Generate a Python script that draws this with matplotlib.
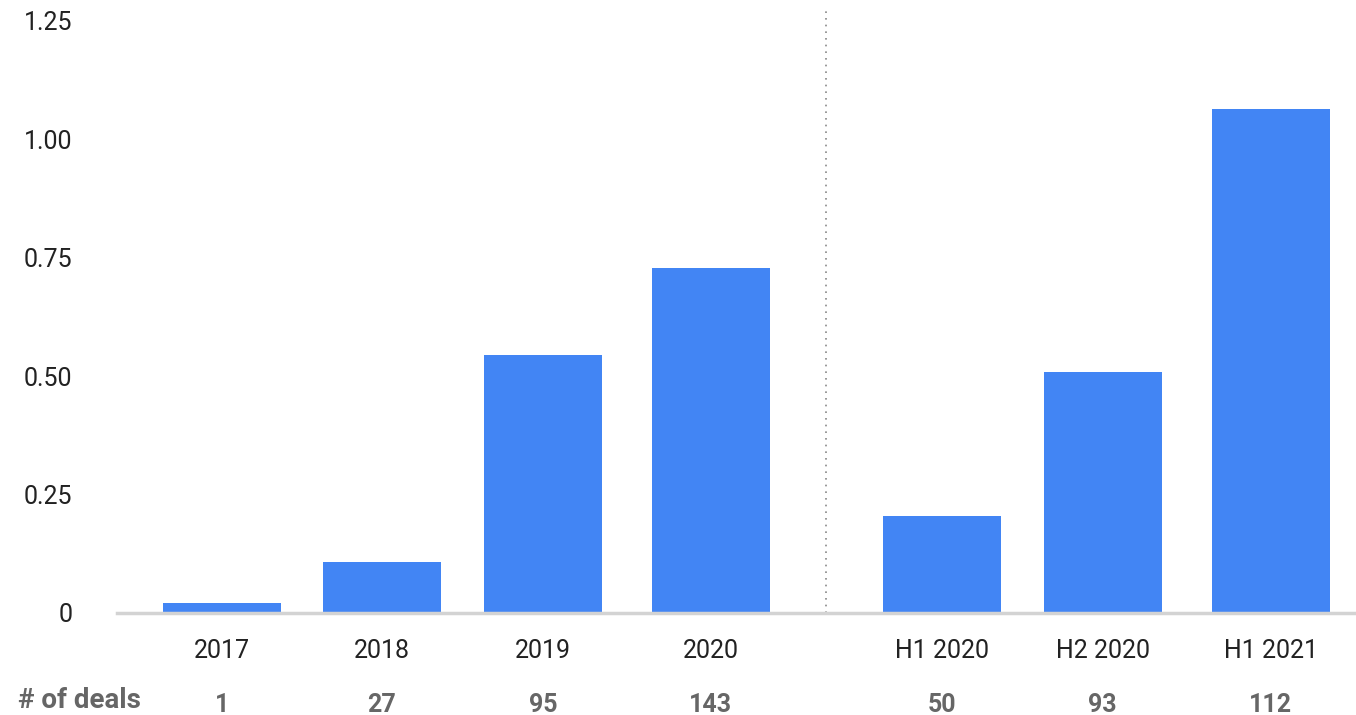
import matplotlib
matplotlib.use('Agg')
import matplotlib.pyplot as plt

# 数据
categories = ['2017', '2018', '2019', '2020', 'H1 2020', 'H2 2020', 'H1 2021']
values = [0.021, 0.108, 0.545, 0.728, 0.205, 0.509, 1.064]
deals = ['1', '27', '95', '143', '50', '93', '112']
yticks = [0, 0.25, 0.5, 0.75, 1.0, 1.25]
ytick_labels = ['0', '0.25', '0.50', '0.75', '1.00', '1.25']

# 柱子位置（两组之间留空）
xpos = [0, 1, 2.005, 3.055, 4.5, 5.505, 6.555]
sep_x = 3.775

plt.rcParams['font.family'] = ['Roboto', 'DejaVu Sans']

fig = plt.figure(figsize=(13.56, 7.15), dpi=100)
ax = fig.add_axes([117 / 1356, 102 / 715, 1 - 117 / 1356, 592 / 715])

ax.bar(xpos, values, width=0.7375, color='#4285F4', zorder=2)

ax.set_xlim(-0.656, 7.0875)
ax.set_ylim(0, 1.25)

for s in ['top', 'right', 'left']:
    ax.spines[s].set_visible(False)
ax.spines['bottom'].set_color('#d3d3d3')
ax.spines['bottom'].set_linewidth(2.5)
ax.spines['bottom'].set_zorder(3)

ax.set_yticks(yticks)
ax.set_yticklabels(ytick_labels, fontsize=18, color='#222222')
ax.tick_params(axis='y', length=0, pad=32)

ax.set_xticks(xpos)
ax.set_xticklabels(categories, fontsize=18, color='#222222')
ax.tick_params(axis='x', length=0, pad=19)

# 分隔虚线
ax.plot([sep_x, sep_x], [0, 1.272], color='#888888', linestyle=(0, (1, 3)),
        linewidth=1.2, clip_on=False, zorder=1)

# 交易数量行
trans = ax.get_xaxis_transform()
for x, d in zip(xpos, deals):
    ax.text(x, -0.155, d, transform=trans, ha='center', va='center',
            fontsize=18, fontweight='bold', color='#666666')
fig.text(18 / 1356, 1 - 701 / 715, '# of deals', ha='left', va='center',
         fontsize=20, fontweight='bold', color='#666666')

fig.savefig('out.png', dpi=100)
